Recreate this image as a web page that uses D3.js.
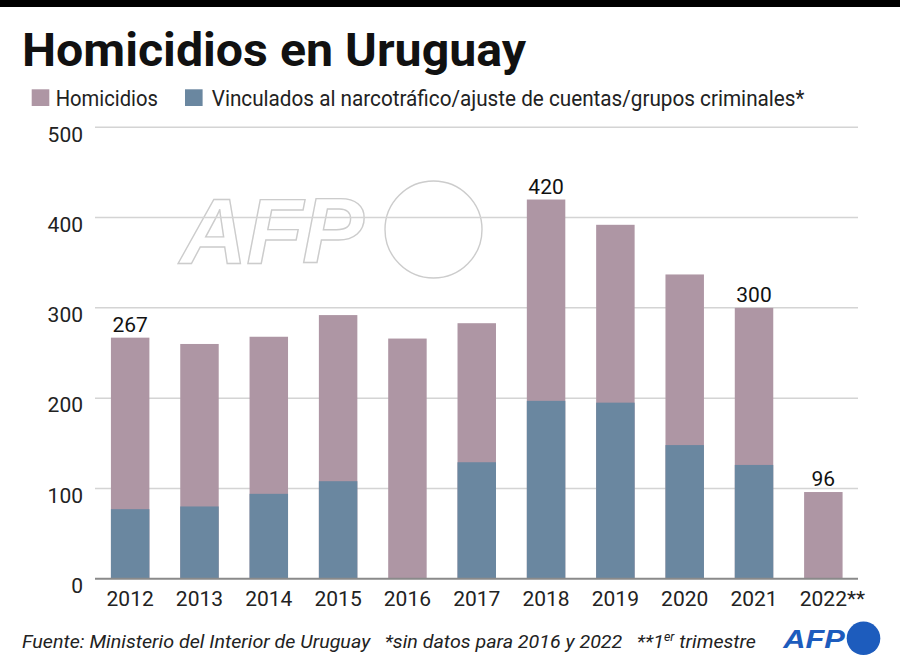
<!DOCTYPE html>
<html><head><meta charset="utf-8">
<script src="https://cdn.jsdelivr.net/npm/d3@7"></script>
<style>body{margin:0;background:#fff}svg{display:block}</style>
</head><body>
<svg id="c" width="900" height="670"></svg>
<script>
const years = ["2012","2013","2014","2015","2016","2017","2018","2019","2020","2021","2022"];
const yearLabels = ["2012","2013","2014","2015","2016","2017","2018","2019","2020","2021","2022**"];
const homicidios = [267,260,268,292,266,283,420,392,337,300,96];
const vinculados = [77,80,94,108,null,129,197,195,148,126,null];
const labeledYears = ["2012","2018","2021","2022"];
const yTicks = [0,100,200,300,400,500];
const seriesNames = ["Homicidios","Vinculados al narcotráfico/ajuste de cuentas/grupos criminales*"];
const colors = ["#ae96a4","#6a87a0"];

const FONT = "Roboto,'Noto Sans',sans-serif";
const svg = d3.select("#c");

// fit a group horizontally into [x0, x0+w]
function fitX(g, x0, w){
  const b = g.node().getBBox();
  g.attr("transform", `translate(${x0},0) scale(${w/b.width},1) translate(${-b.x},0)`);
}

svg.append("rect").attr("x",0).attr("y",0).attr("width",900).attr("height",7).attr("fill","#000");

const tg = svg.append("g");
tg.append("text").attr("x",0).attr("y",66).attr("font-family",FONT).attr("font-weight","bold")
  .attr("font-size",46).attr("fill","#111").text("Homicidios en Uruguay");
fitX(tg,22,505);

// legend
const legSq = [31.7,185];
const legTx = [[55.7,102.3],[211.7,593.3]];
seriesNames.forEach((n,i)=>{
  svg.append("rect").attr("x",legSq[i]).attr("y",89.3).attr("width",17.6).attr("height",16.7).attr("fill",colors[i]);
  const g = svg.append("g");
  g.append("text").attr("x",0).attr("y",105.7).attr("font-family",FONT).attr("font-size",22.5).attr("fill","#222").text(n);
  fitX(g, legTx[i][0], legTx[i][1]);
});

const x = d3.scaleBand().domain(years).range([95.5,858]).paddingInner(0.445).paddingOuter(0.2225);
const y = d3.scaleLinear().domain([0,500]).range([578.7,127.3]);

// watermark
const wm = svg.append("g");
wm.append("text").attr("x",180).attr("y",263).attr("font-family","'Liberation Sans',Arial,sans-serif")
  .attr("font-weight","bold").attr("font-style","italic").attr("font-size",93).attr("letter-spacing",-1)
  .attr("fill","#fff").attr("stroke","#cccccc").attr("stroke-width",1.4).text("AFP");
wm.append("circle").attr("cx",433.5).attr("cy",229.5).attr("r",48.5).attr("fill","#fff").attr("stroke","#cccccc").attr("stroke-width",1.4);

// grid
svg.append("g").selectAll("line").data(yTicks.filter(d=>d>0)).join("line")
  .attr("x1",95).attr("x2",858).attr("y1",d=>y(d)).attr("y2",d=>y(d))
  .attr("stroke","#d4d4d4").attr("stroke-width",1.5);

// y labels
svg.append("g").selectAll("text").data(yTicks).join("text")
  .attr("x",83).attr("y",d=>y(d)+7).attr("dy","0.35em").attr("text-anchor","end")
  .attr("font-family",FONT).attr("font-size",21).attr("fill","#222").text(d=>d);

// bars
const data = years.map((yr,i)=>({yr,h:homicidios[i],v:vinculados[i],lab:yearLabels[i]}));
svg.append("g").selectAll("rect").data(data).join("rect")
  .attr("x",d=>x(d.yr)).attr("width",x.bandwidth())
  .attr("y",d=>y(d.h)).attr("height",d=>y(0)-y(d.h)).attr("fill",colors[0]);
svg.append("g").selectAll("rect").data(data.filter(d=>d.v!=null)).join("rect")
  .attr("x",d=>x(d.yr)).attr("width",x.bandwidth())
  .attr("y",d=>y(d.v)).attr("height",d=>y(0)-y(d.v)).attr("fill",colors[1]);

// baseline
svg.append("line").attr("x1",95).attr("x2",858).attr("y1",y(0)).attr("y2",y(0)).attr("stroke","#8a8a8a").attr("stroke-width",2);

// value labels
svg.append("g").selectAll("text").data(data.filter(d=>labeledYears.includes(d.yr))).join("text")
  .attr("x",d=>x(d.yr)+x.bandwidth()/2).attr("y",d=>y(d.h)-6).attr("text-anchor","middle")
  .attr("font-family",FONT).attr("font-size",21).attr("fill","#111").text(d=>d.h);

// x labels
const xl = svg.append("g").selectAll("text").data(data).join("text")
  .attr("y",605.7).attr("text-anchor","start")
  .attr("font-family",FONT).attr("font-size",21).attr("fill","#222");
xl.each(function(d){
  const t = d3.select(this);
  const base = d.lab.replace(/\*+$/,"");
  const star = d.lab.slice(base.length);
  t.append("tspan").text(base);
  if(star) t.append("tspan").text(star);
  const bw = this.firstChild.getComputedTextLength();
  t.attr("x", x(d.yr)+x.bandwidth()/2 - bw/2);
});

// footer
const fg = svg.append("g");
const ft = fg.append("text").attr("x",0).attr("y",648).attr("font-family",FONT).attr("font-style","italic")
  .attr("font-size",19).attr("fill","#222").attr("xml:space","preserve").style("white-space","pre");
ft.append("tspan").text("Fuente: Ministerio del Interior de Uruguay   *sin datos para 2016 y 2022   **1");
ft.append("tspan").attr("font-size",12).attr("dy",-7).text("er");
ft.append("tspan").attr("dy",7).text(" trimestre");
fitX(fg,22,735);

// AFP logo
const lgo = svg.append("g");
lgo.append("text").attr("x",0).attr("y",648.3).attr("font-family","'Liberation Sans',Arial,sans-serif")
  .attr("font-weight","bold").attr("font-style","italic").attr("font-size",25.5)
  .attr("fill","#1d5cbd").text("AFP");
fitX(lgo,782,64);
svg.append("circle").attr("cx",863.5).attr("cy",638.3).attr("r",16.8).attr("fill","#1d5cbd");
</script>
</body></html>
